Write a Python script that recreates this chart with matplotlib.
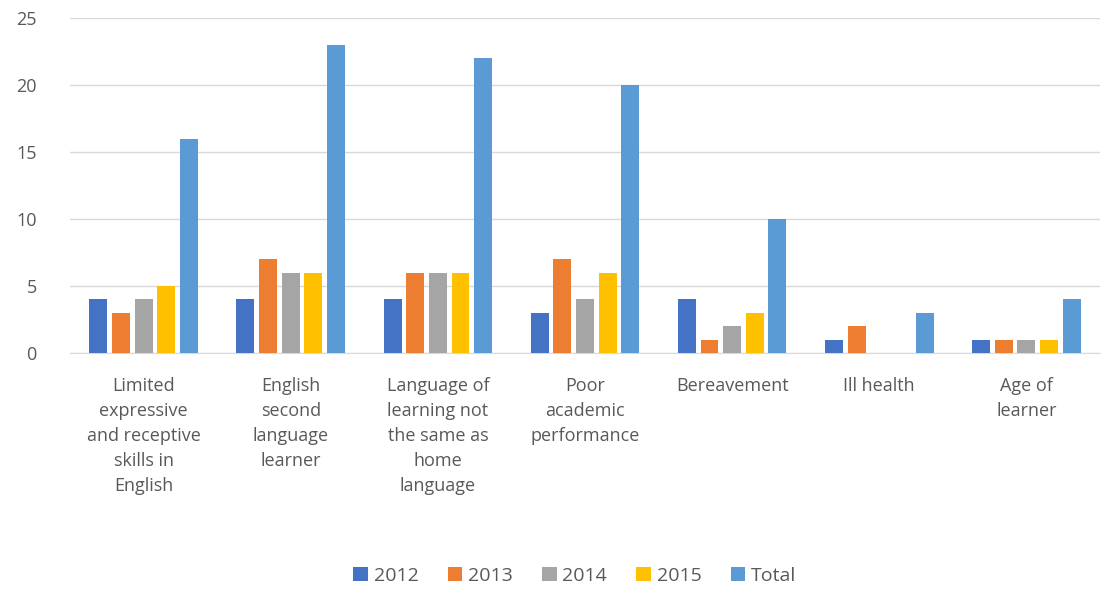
import matplotlib.pyplot as plt
import numpy as np

plt.rcParams['font.family'] = ['Open Sans', 'DejaVu Sans']

categories = ["Limited\nexpressive\nand receptive\nskills in\nEnglish",
              "English\nsecond\nlanguage\nlearner",
              "Language of\nlearning not\nthe same as\nhome\nlanguage",
              "Poor\nacademic\nperformance",
              "Bereavement",
              "Ill health",
              "Age of\nlearner"]
series = ["2012", "2013", "2014", "2015", "Total"]
v2012 = [4, 4, 4, 3, 4, 1, 1]
v2013 = [3, 7, 6, 7, 1, 2, 1]
v2014 = [4, 6, 6, 4, 2, 0, 1]
v2015 = [5, 6, 6, 6, 3, 0, 1]
vtotal = [16, 23, 22, 20, 10, 3, 4]
colors = ["#4472C4", "#ED7D31", "#A5A5A5", "#FFC000", "#5B9BD5"]

fig = plt.figure(figsize=(11.06, 5.9), dpi=100)
ax = fig.add_axes([70 / 1106, 237 / 590, 1030 / 1106, 335 / 590])

x = np.arange(len(categories))
step = 0.154
width = 0.122
for i, (name, vals) in enumerate(zip(series, [v2012, v2013, v2014, v2015, vtotal])):
    ax.bar(x + (i - 2) * step, vals, width, color=colors[i], label=name, zorder=3)

ax.set_xlim(-0.5, len(categories) - 0.5)
ax.set_ylim(0, 25)
ax.set_yticks(range(0, 26, 5))
ax.grid(axis='y', color='#D9D9D9', linewidth=1, zorder=0)
for s in ['top', 'right', 'left']:
    ax.spines[s].set_visible(False)
ax.spines['bottom'].set_color('#D9D9D9')
ax.tick_params(length=0, colors='#595959', labelsize=13)
ax.tick_params(axis='y', pad=24)
ax.set_xticks(x)
ax.set_xticklabels(categories, linespacing=1.5)
ax.tick_params(axis='x', pad=17)

leg = ax.legend(loc='lower center', bbox_to_anchor=(0.49, -0.745), ncol=5, frameon=False,
                fontsize=14, handlelength=0.75, handleheight=0.75, handletextpad=0.3,
                columnspacing=1.5)
for t in leg.get_texts():
    t.set_color('#595959')

fig.savefig("out.png", dpi=100)
